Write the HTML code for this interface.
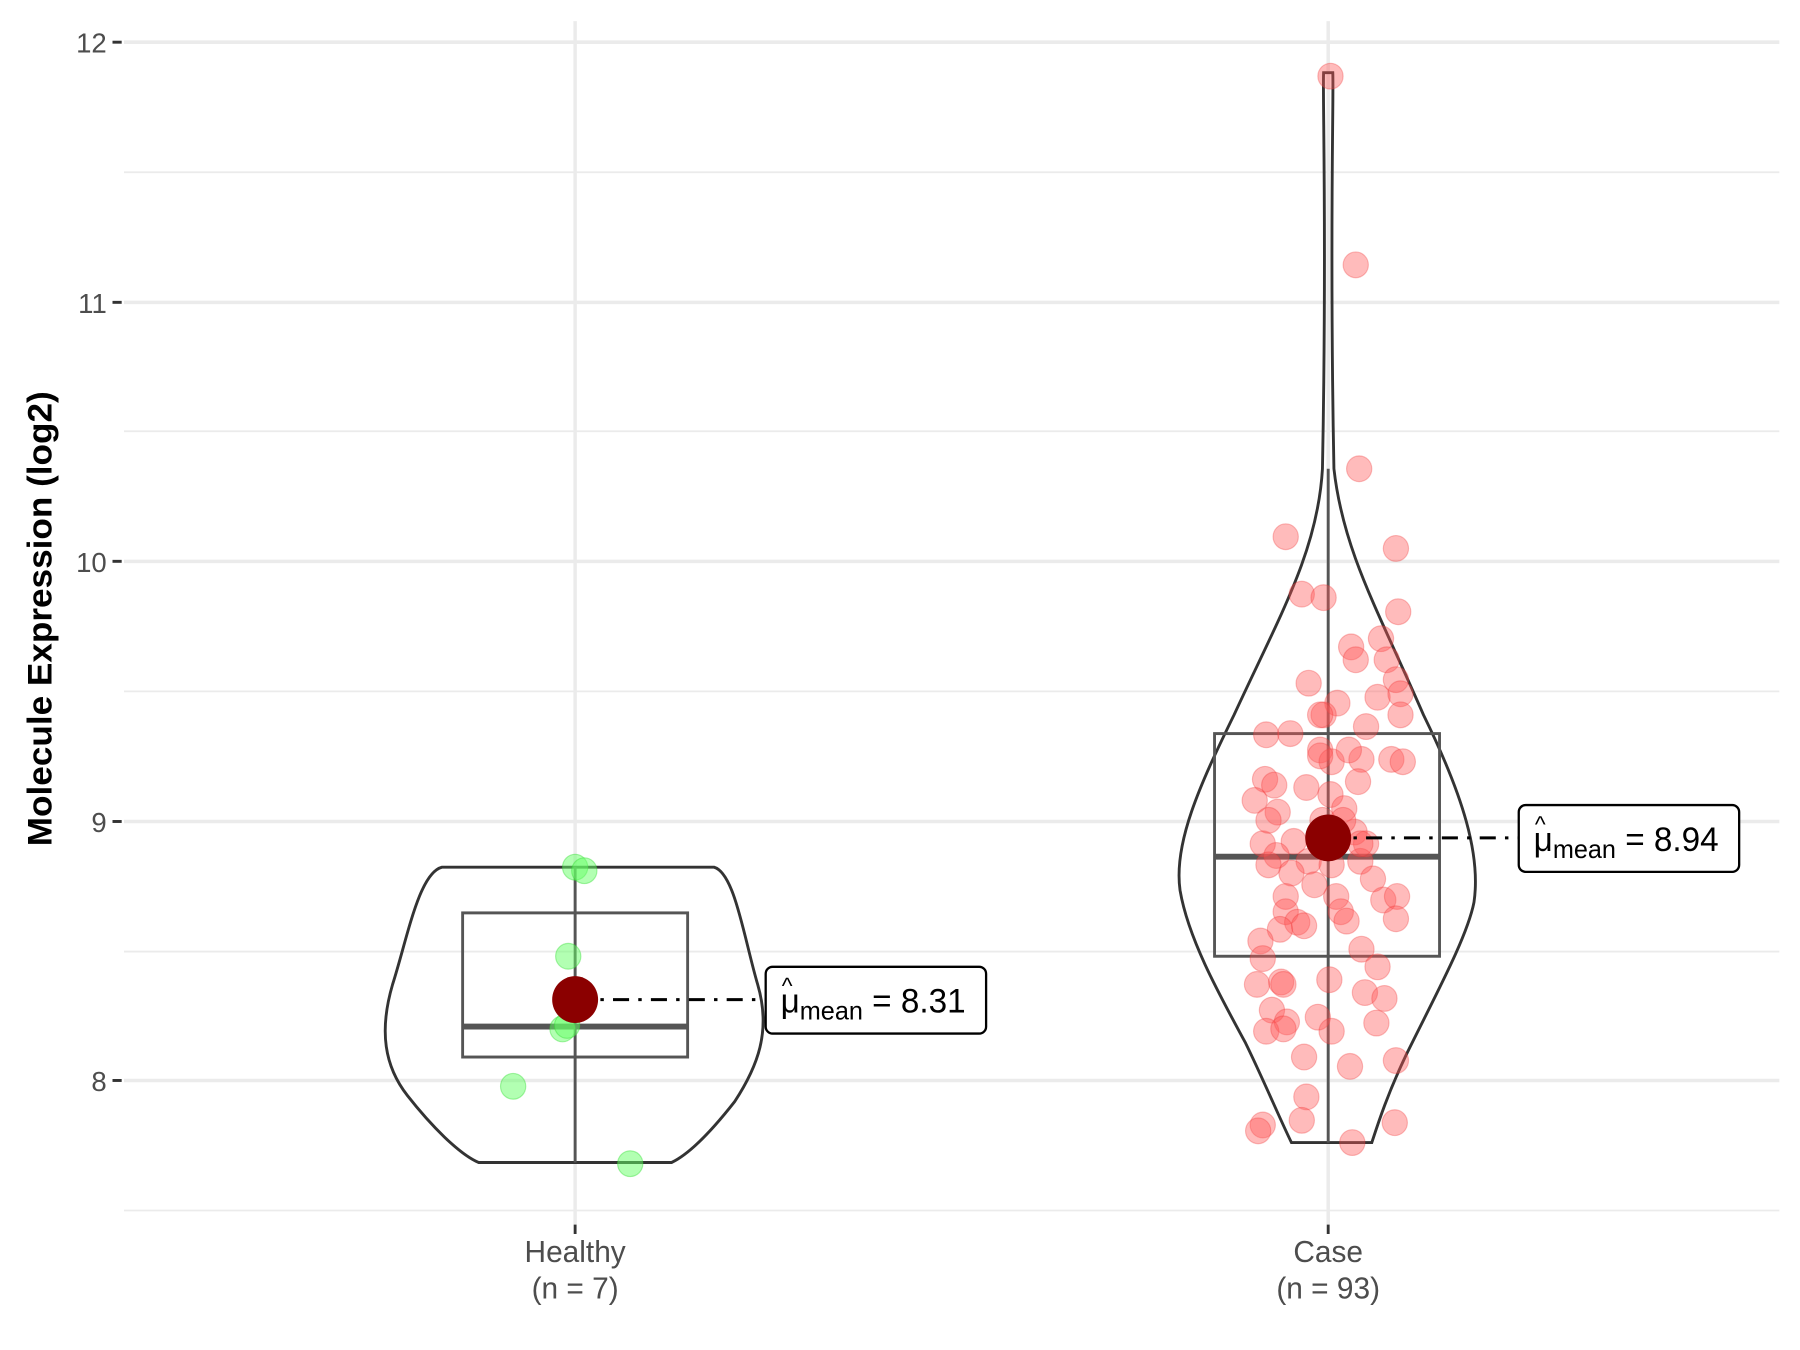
<!DOCTYPE html>
<html><head><meta charset="utf-8"><style>html,body{margin:0;padding:0;background:#fff}svg{display:block}</style></head>
<body>
<svg width="1800" height="1350" viewBox="0 0 1568 1152" preserveAspectRatio="none" xmlns="http://www.w3.org/2000/svg" font-family="Liberation Sans, sans-serif">
<rect width="1568" height="1152" fill="#fff"/>
<g stroke="#ebebeb" stroke-width="1.5">
<line x1="108" x2="1550" y1="147" y2="147"/><line x1="108" x2="1550" y1="368" y2="368"/><line x1="108" x2="1550" y1="590" y2="590"/><line x1="108" x2="1550" y1="812" y2="812"/><line x1="108" x2="1550" y1="1033" y2="1033"/>
</g>
<g stroke="#ebebeb" stroke-width="3">
<line x1="108" x2="1550" y1="36" y2="36"/><line x1="108" x2="1550" y1="258" y2="258"/><line x1="108" x2="1550" y1="479" y2="479"/><line x1="108" x2="1550" y1="701" y2="701"/><line x1="108" x2="1550" y1="922" y2="922"/>
<line x1="501" x2="501" y1="18" y2="1045"/><line x1="1157" x2="1157" y1="18" y2="1045"/>
</g>
<g stroke="#333" stroke-width="2.5">
<line x1="98" x2="106" y1="36" y2="36"/><line x1="98" x2="106" y1="258" y2="258"/><line x1="98" x2="106" y1="479" y2="479"/><line x1="98" x2="106" y1="701" y2="701"/><line x1="98" x2="106" y1="922" y2="922"/>
<line x1="501" x2="501" y1="1045" y2="1053"/><line x1="1157" x2="1157" y1="1045" y2="1053"/>
</g>
<g font-size="24" fill="#4d4d4d" text-anchor="end">
<text x="93" y="45">12</text><text x="93" y="267">11</text><text x="93" y="488">10</text><text x="93" y="710">9</text><text x="93" y="931">8</text>
</g>
<g font-size="26" fill="#4d4d4d" text-anchor="middle">
<text x="501" y="1077">Healthy</text><text x="501" y="1108">(n = 7)</text>
<text x="1157" y="1077">Case</text><text x="1157" y="1108">(n = 93)</text>
</g>
<text transform="translate(45,528) rotate(-90)" font-size="30" font-weight="bold" text-anchor="middle">Molecule Expression (log2)</text>

<!-- Healthy violin -->
<path d="M385,740 L622,740 C640,745 648,800 660,840 C672,880 660,910 640,940 C620,965 600,985 585,992 L417,992 C400,985 375,960 355,935 C335,910 330,880 342,840 C355,800 365,745 385,740 Z" fill="none" stroke="#333" stroke-width="2.5"/>
<line x1="501" x2="501" y1="740" y2="992" stroke="#555" stroke-width="2.5"/>
<rect x="403" y="779" width="196" height="123" fill="#fff" fill-opacity="0" stroke="#555" stroke-width="2.5"/>
<line x1="403" x2="599" y1="876" y2="876" stroke="#555" stroke-width="5"/>
<g fill="#66ff66" fill-opacity="0.5" stroke="#33dd33" stroke-opacity="0.4">
<circle cx="501" cy="740" r="11"/><circle cx="509" cy="743" r="11"/><circle cx="495" cy="816" r="11"/><circle cx="490" cy="878" r="11"/><circle cx="494" cy="875" r="11"/><circle cx="447" cy="927" r="11"/><circle cx="549" cy="993" r="11"/>
</g>

<!-- Case violin -->
<path d="M1153,62 L1161,62 C1162,80 1158,200 1162,400 C1170,470 1200,520 1240,610 C1275,680 1290,730 1284,770 C1278,800 1250,850 1225,900 C1208,935 1200,960 1195,975 L1125,975 C1115,955 1100,920 1085,890 C1060,845 1035,800 1028,760 C1022,720 1045,670 1075,610 C1115,525 1148,470 1152,400 C1156,200 1152,80 1153,62 Z" fill="none" stroke="#333" stroke-width="2.5"/>
<line x1="1157" x2="1157" y1="400" y2="975" stroke="#555" stroke-width="2.5"/>
<rect x="1058" y="626" width="196" height="190" fill="none" stroke="#555" stroke-width="2.5"/>
<line x1="1058" x2="1254" y1="731" y2="731" stroke="#555" stroke-width="5"/>
<g fill="#ff5555" fill-opacity="0.4" stroke="#ee3333" stroke-opacity="0.3">
<circle cx="1159" cy="65" r="11"/><circle cx="1181" cy="226" r="11"/><circle cx="1184" cy="400" r="11"/><circle cx="1120" cy="458" r="11"/><circle cx="1216" cy="468" r="11"/><circle cx="1134" cy="507" r="11"/><circle cx="1153" cy="510" r="11"/><circle cx="1218" cy="522" r="11"/><circle cx="1177" cy="552" r="11"/><circle cx="1203" cy="545" r="11"/><circle cx="1208" cy="563" r="11"/><circle cx="1181" cy="563" r="11"/><circle cx="1140" cy="583" r="11"/><circle cx="1216" cy="580" r="11"/><circle cx="1165" cy="600" r="11"/><circle cx="1200" cy="595" r="11"/><circle cx="1220" cy="592" r="11"/><circle cx="1153" cy="610" r="11"/><circle cx="1220" cy="610" r="11"/><circle cx="1190" cy="620" r="11"/><circle cx="1103" cy="627" r="11"/><circle cx="1124" cy="626" r="11"/><circle cx="1150" cy="640" r="11"/><circle cx="1160" cy="650" r="11"/><circle cx="1186" cy="648" r="11"/><circle cx="1212" cy="648" r="11"/><circle cx="1222" cy="650" r="11"/><circle cx="1102" cy="665" r="11"/><circle cx="1110" cy="670" r="11"/><circle cx="1138" cy="672" r="11"/><circle cx="1183" cy="667" r="11"/><circle cx="1093" cy="683" r="11"/><circle cx="1113" cy="693" r="11"/><circle cx="1159" cy="678" r="11"/><circle cx="1171" cy="690" r="11"/><circle cx="1152" cy="700" r="11"/><circle cx="1127" cy="718" r="11"/><circle cx="1100" cy="720" r="11"/><circle cx="1180" cy="710" r="11"/><circle cx="1190" cy="720" r="11"/><circle cx="1112" cy="730" r="11"/><circle cx="1105" cy="738" r="11"/><circle cx="1140" cy="735" r="11"/><circle cx="1160" cy="738" r="11"/><circle cx="1185" cy="735" r="11"/><circle cx="1125" cy="745" r="11"/><circle cx="1196" cy="750" r="11"/><circle cx="1120" cy="765" r="11"/><circle cx="1164" cy="765" r="11"/><circle cx="1168" cy="778" r="11"/><circle cx="1205" cy="768" r="11"/><circle cx="1217" cy="765" r="11"/><circle cx="1120" cy="778" r="11"/><circle cx="1130" cy="787" r="11"/><circle cx="1115" cy="793" r="11"/><circle cx="1098" cy="803" r="11"/><circle cx="1136" cy="790" r="11"/><circle cx="1173" cy="786" r="11"/><circle cx="1216" cy="784" r="11"/><circle cx="1186" cy="810" r="11"/><circle cx="1100" cy="818" r="11"/><circle cx="1200" cy="825" r="11"/><circle cx="1116" cy="838" r="11"/><circle cx="1095" cy="840" r="11"/><circle cx="1158" cy="836" r="11"/><circle cx="1189" cy="847" r="11"/><circle cx="1206" cy="852" r="11"/><circle cx="1108" cy="862" r="11"/><circle cx="1148" cy="868" r="11"/><circle cx="1121" cy="872" r="11"/><circle cx="1199" cy="873" r="11"/><circle cx="1103" cy="880" r="11"/><circle cx="1160" cy="880" r="11"/><circle cx="1118" cy="878" r="11"/><circle cx="1136" cy="902" r="11"/><circle cx="1176" cy="910" r="11"/><circle cx="1216" cy="905" r="11"/><circle cx="1138" cy="936" r="11"/><circle cx="1134" cy="956" r="11"/><circle cx="1100" cy="960" r="11"/><circle cx="1096" cy="965" r="11"/><circle cx="1178" cy="975" r="11"/><circle cx="1215" cy="958" r="11"/><circle cx="1150" cy="645" r="11"/><circle cx="1170" cy="700" r="11"/><circle cx="1145" cy="755" r="11"/><circle cx="1118" cy="840" r="11"/><circle cx="1150" cy="610" r="11"/><circle cx="1185" cy="720" r="11"/><circle cx="1105" cy="700" r="11"/><circle cx="1175" cy="640" r="11"/>
</g>

<!-- means -->
<line x1="501" x2="667" y1="853" y2="853" stroke="#000" stroke-width="2.5" stroke-dasharray="14,8,3,8"/>
<circle cx="501" cy="853" r="20" fill="#8b0000"/>
<rect x="667" y="825" width="192" height="57" rx="6" fill="#fff" stroke="#000" stroke-width="2"/>
<text x="680" y="864" font-size="29">μ<tspan font-size="22" dy="6">mean</tspan><tspan dy="-6"> = 8.31</tspan></text>
<text x="681" y="848" font-size="20">^</text>

<line x1="1157" x2="1323" y1="715" y2="715" stroke="#000" stroke-width="2.5" stroke-dasharray="14,8,3,8"/>
<circle cx="1157" cy="715" r="20" fill="#8b0000"/>
<rect x="1323" y="687" width="192" height="57" rx="6" fill="#fff" stroke="#000" stroke-width="2"/>
<text x="1336" y="726" font-size="29">μ<tspan font-size="22" dy="6">mean</tspan><tspan dy="-6"> = 8.94</tspan></text>
<text x="1337" y="710" font-size="20">^</text>
</svg>
</body></html>
